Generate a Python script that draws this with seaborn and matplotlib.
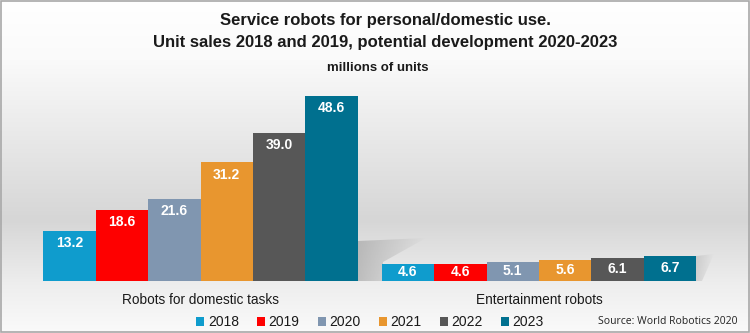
import numpy as np
import pandas as pd
import matplotlib
matplotlib.use("Agg")
import matplotlib.pyplot as plt
from matplotlib.patches import Polygon, Rectangle
import seaborn as sns

categories = ["Robots for domestic tasks", "Entertainment robots"]
years = ["2018", "2019", "2020", "2021", "2022", "2023"]
domestic = [13.2, 18.6, 21.6, 31.2, 39.0, 48.6]
entertainment = [4.6, 4.6, 5.1, 5.6, 6.1, 6.7]
colors = ["#0f9ccd", "#fe0000", "#8096b0", "#e8962f", "#575757", "#00708f"]
title_lines = ["Service robots for personal/domestic use.",
               "Unit sales 2018 and 2019, potential development 2020-2023"]
subtitle = "millions of units"
source = "Source: World Robotics 2020"

df = pd.DataFrame({
    "category": [categories[0]] * len(years) + [categories[1]] * len(years),
    "year": years + years,
    "value": domestic + entertainment,
})

sns.set_theme(style="white")
plt.rcParams["font.family"] = ["Liberation Sans", "DejaVu Sans"]

W, H = 750, 333
fig = plt.figure(figsize=(W / 100, H / 100), dpi=100)

# background gradient
bg = fig.add_axes([0, 0, 1, 1], zorder=-10)
stops_y = np.array([0, 60, 220, 285, 333]) / H
stops_c = np.array([255, 250, 214, 238, 250]) / 255
yy = np.linspace(0, 1, 400)
grad = np.interp(yy, stops_y, stops_c)
img = np.repeat(grad[:, None], 2, axis=1)
bg.imshow(np.dstack([img, img, img]), aspect="auto", extent=[0, 1, 1, 0])
bg.set_xlim(0, 1); bg.set_ylim(1, 0)
bg.axis("off")

# soft shadow between the groups (decoration)
def soft_shadow(poly, x0, x1, y0, y1, darkest=0.55, fade_dir="x"):
    n = 200
    if fade_dir == "x":
        a = np.linspace(darkest, 0, n)[None, :].repeat(20, axis=0)
    else:
        a = np.linspace(0, darkest, n)[:, None].repeat(20, axis=1)
    rgba = np.zeros(a.shape + (4,))
    rgba[..., :3] = 0.62
    rgba[..., 3] = a
    im = bg.imshow(rgba, aspect="auto", extent=[x0, x1, y1, y0], zorder=1,
                   interpolation="bilinear")
    p = Polygon(poly, closed=True, transform=bg.transData, facecolor="none",
                edgecolor="none")
    bg.add_patch(p)
    im.set_clip_path(p)

soft_shadow([(358 / W, 281 / H), (358 / W, 241 / H), (426 / W, 238 / H),
             (383 / W, 262 / H), (383 / W, 281 / H)],
            358 / W, 426 / W, 238 / H, 281 / H, darkest=0.6)
soft_shadow([(696 / W, 281 / H), (696 / W, 256 / H), (714 / W, 254 / H),
             (702 / W, 281 / H)],
            696 / W, 714 / W, 254 / H, 281 / H, darkest=0.35)

bg.add_patch(Rectangle((0.0015, 0.003), 0.997, 0.994, fill=False,
                       edgecolor="#a8a8a8", linewidth=1.2, zorder=3))

ax = fig.add_axes([0, 52 / H, 1, 190 / H])
ax.patch.set_alpha(0)
sns.barplot(data=df, x="category", y="value", hue="year", hue_order=years,
            order=categories, palette=colors, width=0.93, gap=0,
            saturation=1, edgecolor="none", ax=ax)

unit = 338.5
ax.set_xlim(-200.5 / unit, (W - 200.5) / unit)
ax.set_ylim(0, 50)
for s in ax.spines.values():
    s.set_visible(False)
ax.set_yticks([])
ax.set_xlabel("")
ax.set_ylabel("")
ax.tick_params(axis="x", length=0, pad=9, labelsize=9.8, labelcolor="#1a1a1a")

for cont in ax.containers:
    for p in cont.patches:
        h = p.get_height()
        off = min(3.2, h / 2)
        ax.text(p.get_x() + p.get_width() / 2, h - off, f"{h:.1f}",
                ha="center", va="center", color="white", fontweight="bold",
                fontsize=10)

handles, labels = ax.get_legend_handles_labels()
if ax.legend_ is not None:
    ax.legend_.remove()
fig.legend(handles, labels, loc="center", bbox_to_anchor=(370 / W, 1 - 322 / H),
           ncol=6, frameon=False, fontsize=10, handlelength=0.6,
           handleheight=0.6, handletextpad=0.25, columnspacing=1.3,
           labelcolor="#1a1a1a")

fig.text(385 / W, 1 - 20 / H, title_lines[0], ha="center", va="center",
         fontsize=12, fontweight="bold", color="#1a1a1a")
fig.text(385 / W, 1 - 42 / H, title_lines[1], ha="center", va="center",
         fontsize=12, fontweight="bold", color="#1a1a1a")
fig.text(378 / W, 1 - 68 / H, subtitle, ha="center", va="center",
         fontsize=9.5, fontweight="bold", color="#1a1a1a")
fig.text(738 / W, 1 - 322 / H, source, ha="right", va="center",
         fontsize=7.5, color="#222222", family=["Open Sans", "DejaVu Sans"])

fig.savefig("out.png", dpi=100)
